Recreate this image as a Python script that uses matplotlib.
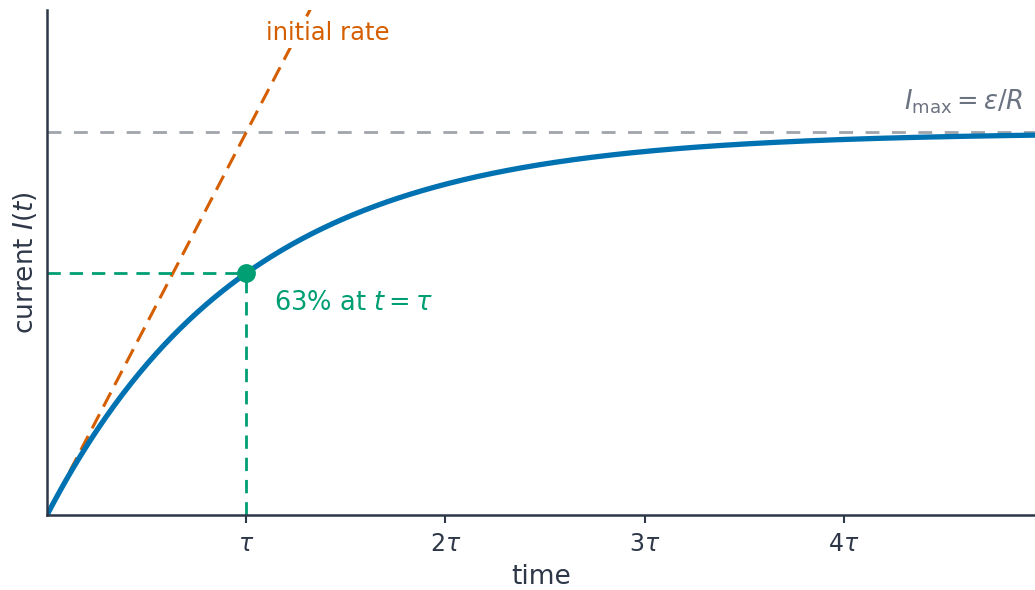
import matplotlib.pyplot as plt
import numpy as np

# time in units of tau, current in units of I_max
t_max = 4.96
tick_vals = [1, 2, 3, 4]
tick_labels = [r'$\tau$', r'$2\tau$', r'$3\tau$', r'$4\tau$']
frac_at_tau = 1 - np.exp(-1)

blue = '#0072B2'
orange = '#D55E00'
green = '#009E73'
ink = '#2d3748'

fig = plt.figure(figsize=(10.35, 5.9), dpi=100)
ax = fig.add_axes([0.0454, 0.127, 0.9546, 0.856])

t = np.linspace(0, t_max, 600)
current = 1 - np.exp(-t)

ax.axhline(1.0, color='#a0a4ab', linestyle=(0, (5, 4.5)), linewidth=2)
ax.plot(t, t, color=orange, linestyle=(0, (5.2, 2.8)), linewidth=2.2)
ax.plot([0, 1], [frac_at_tau, frac_at_tau], color=green, linestyle=(0, (4.8, 3.2)), linewidth=2)
ax.plot([1, 1], [0, frac_at_tau], color=green, linestyle=(0, (4.8, 3.2)), linewidth=2)
ax.plot(t, current, color=blue, linewidth=3.8, solid_capstyle='butt')
ax.plot([1], [frac_at_tau], 'o', color=green, markersize=12.5, zorder=5)

# white box behind the label hides the dashed line where it crosses
ax.text(1.1, 1.26, 'initial rate', color=orange, fontsize=17.5, ha='left', va='center',
        bbox=dict(facecolor='white', edgecolor='none', pad=2), zorder=6)
ax.text(4.9, 1.08, r'$I_{\max} = \varepsilon / R$', color='#6b7280', fontsize=18.5,
        ha='right', va='center')
ax.text(1.14, 0.553, r'63% at $t = \tau$', color=green, fontsize=18.5, ha='left', va='center')

ax.set_xlim(0, t_max)
ax.set_ylim(0, 1.32)
ax.set_xticks(tick_vals)
ax.set_xticklabels(tick_labels)
ax.set_yticks([])
ax.tick_params(axis='x', colors=ink, labelsize=17, length=6, width=1.5, pad=6)
ax.set_xlabel('time', color=ink, fontsize=19, labelpad=6)
ax.set_ylabel(r'current $I(t)$', color=ink, fontsize=19, labelpad=6)

for side in ['top', 'right']:
    ax.spines[side].set_visible(False)
for side in ['left', 'bottom']:
    ax.spines[side].set_color(ink)
    ax.spines[side].set_linewidth(1.8)

fig.savefig('out.png', dpi=100)
